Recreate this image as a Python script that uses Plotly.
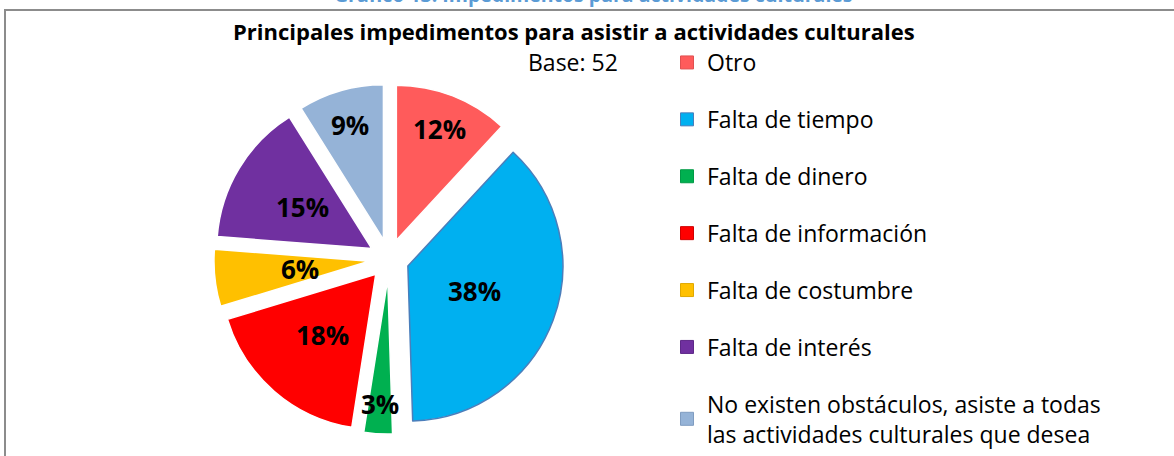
import math
import plotly.graph_objects as go

# ---- data ----
categories = [
    "Otro",
    "Falta de tiempo",
    "Falta de dinero",
    "Falta de información",
    "Falta de costumbre",
    "Falta de interés",
    "No existen obstáculos, asiste a todas<br>las actividades culturales que desea",
]
percentages = [12, 38, 3, 18, 6, 15, 9]
colors = ["#FF5B5B", "#00B0F0", "#00B050", "#FF0000", "#FFC000", "#7030A0", "#95B3D7"]
edge_colors = ["#FFFFFF", "#4A7EBB", "#FFFFFF", "#FFFFFF", "#FFFFFF", "#FFFFFF", "#FFFFFF"]
legend_edge_colors = ["#E05050", "#4A7EBB", "#009A45", "#D00000", "#E0A800", "#5E2888", "#7F9CC0"]
# radial placement of each percentage label (fraction of radius, measured from the slice tip)
label_radius = [0.77, 0.46, 0.81, 0.52, 0.45, 0.52, 0.77]
title_text = "Principales impedimentos para asistir a actividades culturales"
base_text = "Base: 52"
caption_text = "Gráfico 13: Impedimentos para actividades culturales"

W, H = 1174, 456
FONT = "Open Sans"


def px(x):
    return x / W


def py(y):
    return 1 - y / H


# pie geometry (page pixels)
CX, CY = 389, 259
R_PIE = 155
PULL = 0.13
half = R_PIE * (1 + PULL)

fig = go.Figure()
fig.add_trace(
    go.Pie(
        labels=categories,
        values=percentages,
        text=[f"{v}%" for v in percentages],
        textinfo="none",
        sort=False,
        direction="clockwise",
        rotation=0,
        pull=PULL,
        marker=dict(colors=colors, line=dict(color=edge_colors, width=1.5)),
        domain=dict(x=[px(CX - half), px(CX + half)], y=[py(CY + half), py(CY - half)]),
        hoverinfo="label+text",
        showlegend=False,
    )
)

# legend entries
for lab, col, ec in zip(categories, colors, legend_edge_colors):
    fig.add_trace(
        go.Scatter(
            x=[None], y=[None], mode="markers", name=lab, legendgroup=lab,
            marker=dict(symbol="square", size=13, color=col, line=dict(color=ec, width=1)),
            hoverinfo="skip",
        )
    )

# percentage labels placed at slice mid-angles
total = sum(percentages)
annotations = []
cum = 0
for v, fr in zip(percentages, label_radius):
    mid = (cum + v / 2) / total * 2 * math.pi
    cum += v
    d = (PULL + fr) * R_PIE
    lx = CX + d * math.sin(mid)
    ly = CY - d * math.cos(mid)
    annotations.append(
        dict(
            text=f"{v}%", x=px(lx), y=py(ly), xref="paper", yref="paper",
            xanchor="center", yanchor="middle", showarrow=False,
            font=dict(family=FONT, size=26, color="black", weight="bold"),
        )
    )

annotations += [
    dict(
        text=caption_text, x=px(594), y=py(10), xref="paper", yref="paper",
        xanchor="center", yanchor="bottom", showarrow=False,
        font=dict(family=FONT, size=19.5, color="#5B9BD5", weight="bold"),
    ),
    dict(
        text=title_text, x=px(574), y=py(31), xref="paper", yref="paper",
        xanchor="center", yanchor="middle", showarrow=False,
        font=dict(family=FONT, size=22, color="black", weight="bold"),
    ),
    dict(
        text=base_text, x=px(573), y=py(62), xref="paper", yref="paper",
        xanchor="center", yanchor="middle", showarrow=False,
        font=dict(family=FONT, size=23, color="black"),
    ),
]

fig.update_layout(
    width=W,
    height=H,
    margin=dict(l=0, r=0, t=0, b=0),
    paper_bgcolor="white",
    plot_bgcolor="white",
    font=dict(family=FONT, color="black"),
    xaxis=dict(visible=False),
    yaxis=dict(visible=False),
    showlegend=True,
    legend=dict(
        x=px(667),
        xanchor="left",
        y=py(41),
        yanchor="top",
        traceorder="grouped",
        tracegroupgap=24,
        font=dict(family=FONT, size=23, color="black"),
        bgcolor="rgba(0,0,0,0)",
    ),
    annotations=annotations,
    shapes=[
        dict(
            type="rect", xref="paper", yref="paper",
            x0=px(5), x1=1.1, y0=-0.1, y1=py(10),
            line=dict(color="#8C8C8C", width=2), fillcolor="rgba(0,0,0,0)",
        )
    ],
)

fig.write_html(
    "out.html",
    config={"displayModeBar": False},
    post_script="document.body.style.margin='0';document.body.style.overflow='hidden';",
)
